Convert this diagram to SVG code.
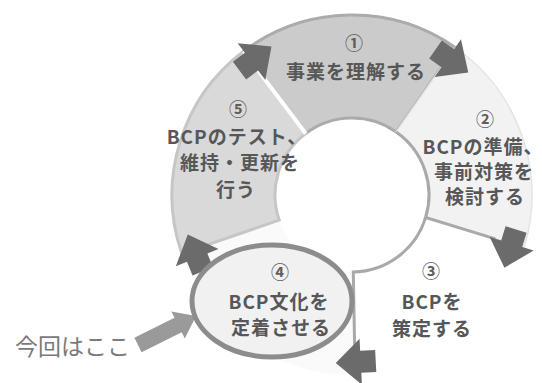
<svg xmlns="http://www.w3.org/2000/svg" xmlns:xlink="http://www.w3.org/1999/xlink" width="542" height="383" viewBox="0 0 542 383">
<style>
.t{font-family:"Noto Sans CJK JP","Noto Sans",sans-serif;font-weight:bold;font-size:19px;letter-spacing:1px;fill:#575757;text-anchor:middle}
.n{font-family:"Noto Sans CJK JP","Noto Sans",sans-serif;font-weight:bold;font-size:18px;fill:#5e5e5e;text-anchor:middle}
.line{fill:none;stroke:#a9a9a9;stroke-width:3}
.ah{fill:#6b6b6b}
</style>
<defs>
<polygon id="ah" points="156,-15 178,-15 178,0 190,0 167,25 144,0 156,0"/>
</defs>
<rect width="542" height="383" fill="#ffffff"/>

<g id="seg4-base">
<path d="M355.1,375 A180 180 0 0 1 181.8,253.6 L279.2,220.1 A77 77 0 0 0 353.3,272 Z" fill="#fafafa"/>
</g>

<g id="seg1">
<path d="M243.7,51.3 A180 180 0 0 1 455.2,47.5 L396.2,131.9 A77 77 0 0 0 305.7,133.5 Z" fill="#cbcbcb" stroke="#ababab" stroke-width="3"/>
<text class="n" x="354" y="50">①</text>
<text class="t" x="356" y="79">事業を理解する</text>
</g>

<g id="seg2">
<path d="M455.2,47.5 A180 180 0 0 1 524.1,247.6 L425.6,217.5 A77 77 0 0 0 396.2,131.9 Z" fill="#f2f2f2" stroke="#e4e4e4" stroke-width="1.5"/>
<path class="line" d="M396.2,131.9 A77 77 0 0 1 425.6,217.5 L495.4,238.9"/>
<text class="n" x="485" y="126">②</text>
<text class="t" x="483" y="154">BCPの準備、</text>
<text class="t" x="484" y="179">事前対策を</text>
<text class="t" x="485" y="204">検討する</text>
</g>

<g id="seg3">
<path class="line" d="M425.6,217.5 A77 77 0 0 1 353.3,272 L354.6,345"/>
<text class="n" x="431" y="278">③</text>
<text class="t" x="432" y="309">BCPを</text>
<text class="t" x="432" y="336">策定する</text>
</g>

<g id="seg5">
<path d="M181.8,253.6 A180 180 0 0 1 243.7,51.3 L305.7,133.5 A77 77 0 0 0 279.2,220.1 Z" fill="#d9d9d9" stroke="#c6c6c6" stroke-width="3"/>
<line x1="243.7" y1="51.3" x2="305.7" y2="133.5" stroke="#ffffff" stroke-width="4"/>
<text class="n" x="238" y="116">⑤</text>
<text class="t" x="237" y="144">BCPのテスト、</text>
<text class="t" x="240" y="170">維持・更新を</text>
<text class="t" x="236" y="197">行う</text>
</g>

<g id="connectors">
<use xlink:href="#ah" class="ah" transform="translate(352 195) rotate(-127)"/>
<use xlink:href="#ah" class="ah" transform="translate(352 195) rotate(-55)"/>
<use xlink:href="#ah" class="ah" transform="translate(352 195) rotate(17)"/>
<use xlink:href="#ah" class="ah" transform="translate(352 195) rotate(87)"/>
<use xlink:href="#ah" class="ah" transform="translate(352 195) rotate(158)"/>
<polygon points="141.6,352.2 134.4,337.8 174.5,317.8 171.4,311.6 196,316 184.8,338.4 181.7,332.2" fill="#9a9a9a"/>
</g>

<g id="seg4">
<ellipse cx="272" cy="301" rx="80" ry="56" fill="#efefef" fill-opacity="0.85" stroke="#8c8c8c" stroke-width="5"/>
<text class="n" x="280" y="279">④</text>
<text class="t" x="279" y="309">BCP文化を</text>
<text class="t" x="281" y="335">定着させる</text>
</g>

<g id="callout">
<text x="15" y="355" font-family="Noto Sans CJK JP, Noto Sans, sans-serif" font-size="23" fill="#7a7a7a">今回はここ</text>
</g>
</svg>
